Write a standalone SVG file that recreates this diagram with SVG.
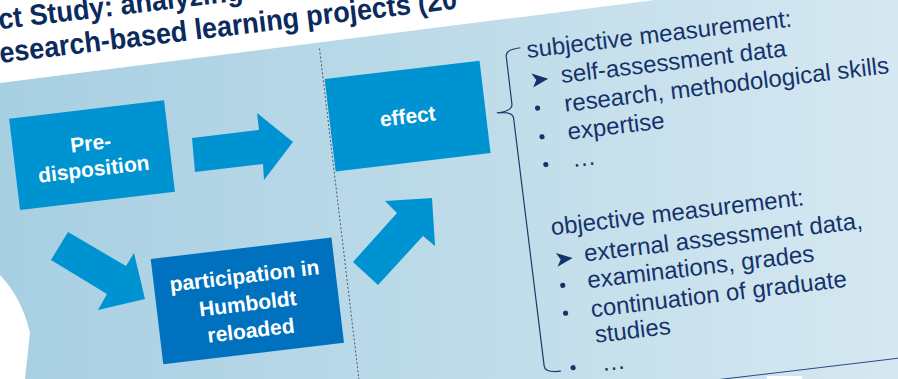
<svg xmlns="http://www.w3.org/2000/svg" width="898" height="379" viewBox="0 0 898 379">
<defs>
<linearGradient id="bgGrad" x1="0" y1="0" x2="1" y2="0">
<stop offset="0" stop-color="#a7cfe2"/>
<stop offset="0.5" stop-color="#bddbe9"/>
<stop offset="1" stop-color="#d6e8f1"/>
</linearGradient>
<style>
.title{font-family:"Liberation Sans",Arial,sans-serif;font-weight:bold;font-size:27px;fill:#0c2a5e}
.box{fill:#0093d1}
.box2{fill:#0071be}
.lbl{font-family:"Liberation Sans",Arial,sans-serif;font-weight:bold;font-size:21px;fill:#ffffff;text-anchor:middle}
.txt{font-family:"Liberation Sans",Arial,sans-serif;font-size:24px;fill:#15326b}
.arrow{fill:#0093d1}
.dot{fill:#15326b}
</style>
</defs>
<rect width="898" height="379" fill="#ffffff"/>
<polygon points="0,83 655,0 898,0 898,379 0,379" fill="url(#bgGrad)"/>
<path d="M0,275 Q22,298 30,333 L25,379 L0,379 Z" fill="#ffffff"/>
<rect x="767" y="376" width="35" height="3" fill="#ffffff"/>
<g transform="rotate(-6.8)">
<text class="title" x="-4" y="29" transform="translate(0,29) scale(1,1.08) translate(0,-29)">ct Study: analyzing</text>
<text class="title" x="-7" y="62.5" transform="translate(0,62.5) scale(1,1.08) translate(0,-62.5)">esearch-based learning projects (20</text>
<line x1="311.5" y1="86" x2="311.5" y2="440" stroke="#4a5a70" stroke-width="1" stroke-dasharray="2,2"/>
<line x1="470" y1="462" x2="940" y2="462" stroke="#2b4a7a" stroke-width="1"/>
<g id="predisposition">
<rect class="box" x="-5" y="119" width="156" height="92"/>
<text class="lbl" x="73" y="160">Pre-</text>
<text class="lbl" x="73" y="186">disposition</text>
</g>
<g id="effect">
<rect class="box" x="313" y="117" width="156" height="93"/>
<text class="lbl" x="391" y="171">effect</text>
</g>
<g id="participation">
<rect class="box2" x="119" y="275" width="182" height="106"/>
<text class="lbl" x="210" y="310">participation in</text>
<text class="lbl" x="210" y="338">Humboldt</text>
<text class="lbl" x="210" y="365">reloaded</text>
</g>
<g id="measurements">
<path d="M511,109 Q496,109 496,116 L496,164 Q496,171 480,171 Q496,171 496,178 L497,428 Q497,435 513,435" fill="none" stroke="#1f3a68" stroke-width="1.2"/>
<text class="txt" x="517" y="120">subjective measurement:</text>
<path class="dot" d="M519,136 L535,143 L519,150 L523,143 Z"/>
<text class="txt" x="548" y="149">self-assessment data</text>
<circle class="dot" cx="521" cy="171" r="2.6"/>
<text class="txt" x="548" y="178">research, methodological skills</text>
<circle class="dot" cx="522" cy="200" r="2.6"/>
<text class="txt" x="548" y="206">expertise</text>
<circle class="dot" cx="522.5" cy="228" r="2.6"/>
<text class="txt" x="549" y="234">…</text>
<text class="txt" x="520" y="299">objective measurement:</text>
<path class="dot" d="M522,317 L538,324 L522,331 L526,324 Z"/>
<text class="txt" x="550" y="329">external assessment data,</text>
<circle class="dot" cx="525" cy="350" r="2.6"/>
<text class="txt" x="550" y="356">examinations, grades</text>
<circle class="dot" cx="524.5" cy="378" r="2.6"/>
<text class="txt" x="550" y="385">continuation of graduate</text>
<text class="txt" x="551" y="411">studies</text>
<circle class="dot" cx="525.5" cy="433" r="2.6"/>
<text class="txt" x="554" y="440">…</text>
</g>
</g>
<g id="connectors">
<polygon class="arrow" points="192,138 259,130 257,113 293,142 264,180 263,164 195,172"/>
<polygon class="arrow" points="68,232 126,266 134,253 145,299 98,310 107,294 51,260"/>
<polygon class="arrow" points="353,262 397,213 385,201 432,198 435,246 423,236 378,285"/>
</g>
</svg>
